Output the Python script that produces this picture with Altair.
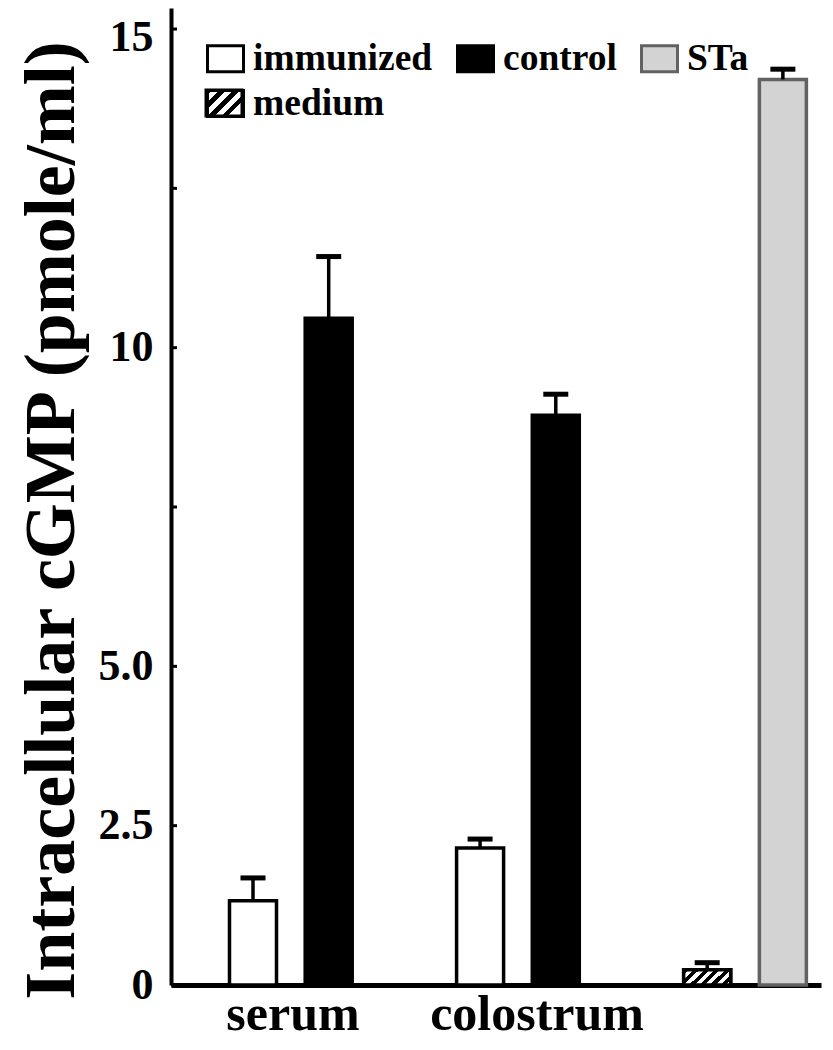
import altair as alt
import pandas as pd

# ---- data ----
groups = ["serum", "serum", "colostrum", "colostrum", "none", "none"]
series = ["immunized", "control", "immunized", "control", "medium", "STa"]
means = [1.32, 10.46, 2.15, 8.94, 0.24, 14.21]
errors = [0.36, 0.97, 0.14, 0.33, 0.11, 0.16]

slot_order = ["serum|immunized", "serum|control", "gap1",
              "colostrum|immunized", "colostrum|control", "gap2",
              "none|medium", "none|STa"]
group_labels = ["serum", "colostrum"]
group_label_slots = ["serum|immunized", "colostrum|immunized"]

legend_order = ["immunized", "control", "STa", "medium"]
fill_colors = ["#ffffff", "#000000", "#d3d3d3", "rgba(0,0,0,0)"]
stroke_colors = ["#000000", "#000000", "#626262", "#000000"]

y_tick_values = [0, 2.5, 5, 10, 15]
y_tick_labels = ["0", "2.5", "5.0", "10", "15"]
y_minor_ticks = [0, 2.5, 5, 7.5, 10, 12.5, 15]

FONT = "Liberation Serif"

df = pd.DataFrame({"group": groups, "series": series, "mean": means, "err": errors})
df["slot"] = df["group"] + "|" + df["series"]
ticks_df = pd.DataFrame({"v": y_minor_ticks})
labels_df = pd.DataFrame({"label": group_labels, "slot": group_label_slots})


def hatch(n, x2, y2):
    stops = []
    for k in range(n):
        a = k / n
        b = (k + 0.5) / n
        c = (k + 1) / n
        stops += [{"offset": a, "color": "black"}, {"offset": b, "color": "black"},
                  {"offset": b, "color": "white"}, {"offset": c, "color": "white"}]
    return {"gradient": "linear", "x1": 0, "y1": 0, "x2": x2, "y2": y2, "stops": stops}


bar_hatch = hatch(6, 1.2, 0.4)
legend_hatch = hatch(4, 1.0, 0.72)

label_expr = "''"
for v, l in reversed(list(zip(y_tick_values, y_tick_labels))):
    label_expr = f"datum.value == {v} ? '{l}' : ({label_expr})"

x_scale = alt.Scale(domain=slot_order, paddingInner=0.379, paddingOuter=0.483, align=0.8)
y_scale = alt.Scale(domain=[0, 15.33], nice=False, zero=True)

x_axis = alt.Axis(labels=False, ticks=False, title=None, domainWidth=5,
                  domainColor="black", grid=False)
y_axis = alt.Axis(values=y_tick_values, labelExpr=label_expr, ticks=False,
                  grid=False, domainWidth=4, domainColor="black",
                  labelFont=FONT, labelFontSize=44, labelFontWeight="bold",
                  labelColor="black", labelPadding=18,
                  labelOffset={"condition": {"test": f"datum.value == {y_tick_values[-1]}",
                                             "value": 8}, "value": 0},
                  title="Intracellular cGMP (pmole/ml)", titleFont=FONT,
                  titleFontSize=72, titleFontWeight="bold", titleColor="black",
                  titleAngle=270, titleX=-98, titleY=512, titleAlign="center",
                  titleBaseline="alphabetic", titleLimit=2000)


def X():
    return alt.X("slot:N", scale=x_scale, sort=slot_order, axis=x_axis)


def Y(field):
    return alt.Y(field, scale=y_scale, axis=y_axis)


bars = alt.Chart(df).mark_bar(strokeWidth=3.5).encode(
    x=X(),
    y=Y("mean:Q"),
    fill=alt.Fill("series:N", scale=alt.Scale(domain=legend_order, range=fill_colors),
                  legend=alt.Legend(title=None, orient="none", legendX=35, legendY=31,
                                    columns=3, direction="horizontal",
                                    symbolType="M-1,-0.72H1V0.72H-1Z", symbolSize=1296,
                                    symbolStrokeColor="black", symbolStrokeWidth=3,
                                    symbolOpacity=1,
                                    labelFont=FONT, labelFontSize=37.5, labelFontWeight="bold",
                                    labelColor="black", labelOffset=8, columnPadding=18,
                                    rowPadding=6, padding=0, labelLimit=400)),
    stroke=alt.Stroke("series:N", scale=alt.Scale(domain=legend_order, range=stroke_colors),
                      legend=None),
)

medium = alt.Chart(df).transform_filter(alt.datum.series == "medium").mark_bar(
    fill=bar_hatch, stroke="black", strokeWidth=3.5
).encode(x=X(), y=Y("mean:Q"))

stems = alt.Chart(df).transform_calculate(top="datum.mean + datum.err").mark_rule(
    color="black", strokeWidth=3.5
).encode(x=X(), y=Y("mean:Q"), y2="top:Q")

caps = alt.Chart(df).transform_calculate(top="datum.mean + datum.err").mark_tick(
    color="black", thickness=5, size=25, opacity=1
).encode(x=X(), y=Y("top:Q"))

yticks = alt.Chart(ticks_df).mark_rule(color="black", strokeWidth=3).encode(
    y=Y("v:Q"), x=alt.value(0), x2=alt.value(6))

text_style = dict(font=FONT, fontSize=50, fontWeight="bold", color="black",
                  baseline="alphabetic", align="center")
serum_lbl = alt.Chart(labels_df).transform_filter(alt.datum.label == "serum").mark_text(
    dx=40, **text_style).encode(x=X(), y=alt.value(1022), text="label:N")
colo_lbl = alt.Chart(labels_df).transform_filter(alt.datum.label == "colostrum").mark_text(
    dx=57, **text_style).encode(x=X(), y=alt.value(1022), text="label:N")

legend_medium = alt.Chart(pd.DataFrame({"series": ["medium"]})).mark_rect(
    fill=legend_hatch, stroke="black", strokeWidth=3
).encode(x=alt.value(35), x2=alt.value(71), y=alt.value(82), y2=alt.value(108))

chart = alt.layer(legend_medium, bars, medium, stems, caps, yticks, serum_lbl, colo_lbl).properties(
    width=650, height=977,
    autosize=alt.AutoSizeParams(type="none"),
    padding={"left": 163, "right": 4, "top": 0, "bottom": 57},
    background="white",
).configure_view(stroke=None)

chart.save("out.html", embed_options={"renderer": "svg", "actions": False})
